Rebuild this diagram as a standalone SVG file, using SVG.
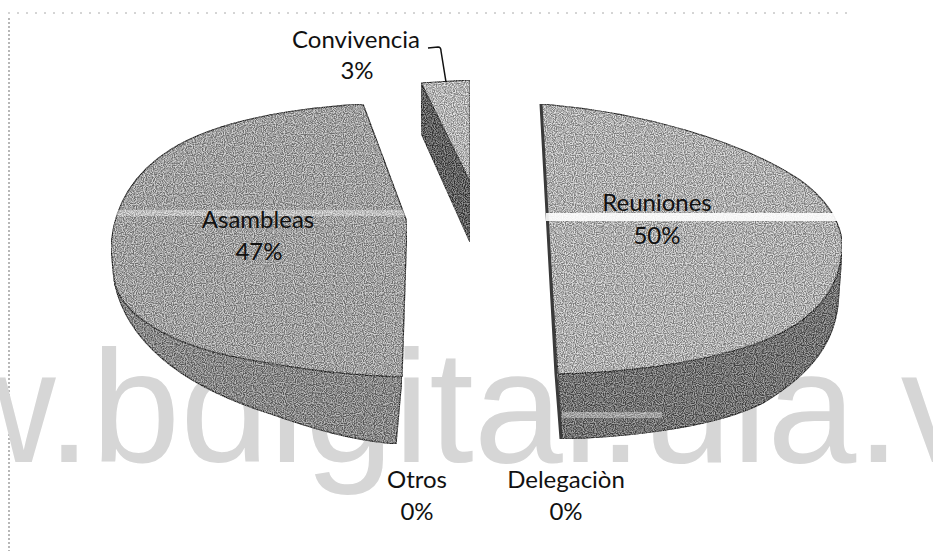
<svg xmlns="http://www.w3.org/2000/svg" width="933" height="551" viewBox="0 0 933 551">
<defs>
<filter id="grain" x="0" y="0" width="100%" height="100%" color-interpolation-filters="sRGB">
<feTurbulence type="fractalNoise" baseFrequency="0.9" numOctaves="1" seed="4" result="n"/>
<feColorMatrix in="n" type="matrix" values="3 0 0 0 -1  3 0 0 0 -1  3 0 0 0 -1  0 0 0 0 0.4" result="g"/>
<feComposite in="g" in2="SourceGraphic" operator="in" result="c"/>
<feMerge><feMergeNode in="SourceGraphic"/><feMergeNode in="c"/></feMerge>
</filter>
</defs>
<style>
.lbl{font-family:Lato,"Liberation Sans",sans-serif;font-size:24px;fill:#111;text-anchor:middle}
.edge{stroke:#2a2a2a;stroke-width:1.2;stroke-linejoin:round}
.wm{font-family:"Liberation Sans",Arial,sans-serif;font-size:160px;fill:#d6d6d6}
</style>
<rect width="933" height="551" fill="#fff"/>
<g id="frame" fill="none">
<line x1="8" y1="13" x2="850" y2="13" stroke="#aaa" stroke-width="1" stroke-dasharray="2 7"/>
<line x1="9" y1="18" x2="9" y2="551" stroke="#888" stroke-width="1.2" stroke-dasharray="2 2"/>
</g>
<g id="watermark"><text class="wm" x="-60" y="462">w.bdigital.ula.ve</text></g>
<g id="slice-asambleas">
<path class="edge" filter="url(#grain)" fill="#b4b4b4" d="M363,104 C300,108 220,118 170,150 C135,172 113,205 111,248 L114,280 C120,315 170,345 240,358 C300,370 350,376 402,377 L407,222 Z"/>
<path class="edge" filter="url(#grain)" fill="#8c8c8c" d="M114,280 C120,315 170,345 240,358 C300,370 350,376 402,377 L396,444 C350,440 310,428 268,413 C180,385 125,340 114,280 Z"/>
<rect x="112" y="210" width="294" height="6" fill="#fff" opacity="0.35"/>
</g>
<g id="slice-reuniones">
<path class="edge" filter="url(#grain)" fill="#cccccc" d="M541,104 C640,112 740,140 800,180 C822,196 838,215 842,240 L842,252 C838,300 800,330 747,347 C690,365 620,373 558,374 L547,213 Z"/>
<path class="edge" filter="url(#grain)" fill="#6a6a6a" d="M842,252 C838,300 800,330 747,347 C690,365 620,373 558,374 L562,439 C640,437 720,425 763,403 C815,372 834,340 838,305 Z"/>
<polyline points="541,104 547,213 556,374 561,439" fill="none" stroke="#3a3a3a" stroke-width="3"/>
<rect x="546" y="213" width="298" height="8" fill="#fff" opacity="0.9"/>
<rect x="562" y="412" width="100" height="6" fill="#fff" opacity="0.35"/>
</g>
<g id="slice-convivencia">
<path class="edge" filter="url(#grain)" fill="#d4d4d4" d="M421,83 L470,80 L470,182 Z"/>
<path class="edge" filter="url(#grain)" fill="#4c4c4c" d="M421,83 L470,182 L470,242 L422,135 Z"/>
</g>
<g id="connectors">
<path d="M428,48 L438,47 Q441,47 441,51 L446,82" fill="none" stroke="#111" stroke-width="1.5"/>
</g>
<g id="label-convivencia"><text class="lbl" x="356" y="48">Convivencia</text><text class="lbl" x="357" y="79">3%</text></g>
<g id="label-asambleas"><text class="lbl" x="258" y="228">Asambleas</text><text class="lbl" x="259" y="260">47%</text></g>
<g id="label-reuniones"><text class="lbl" x="657" y="211">Reuniones</text><text class="lbl" x="657" y="244">50%</text></g>
<g id="label-otros"><text class="lbl" x="417" y="488">Otros</text><text class="lbl" x="417" y="520">0%</text></g>
<g id="label-delegacion"><text class="lbl" x="566" y="488">Delegaciòn</text><text class="lbl" x="566" y="520">0%</text></g>
</svg>
